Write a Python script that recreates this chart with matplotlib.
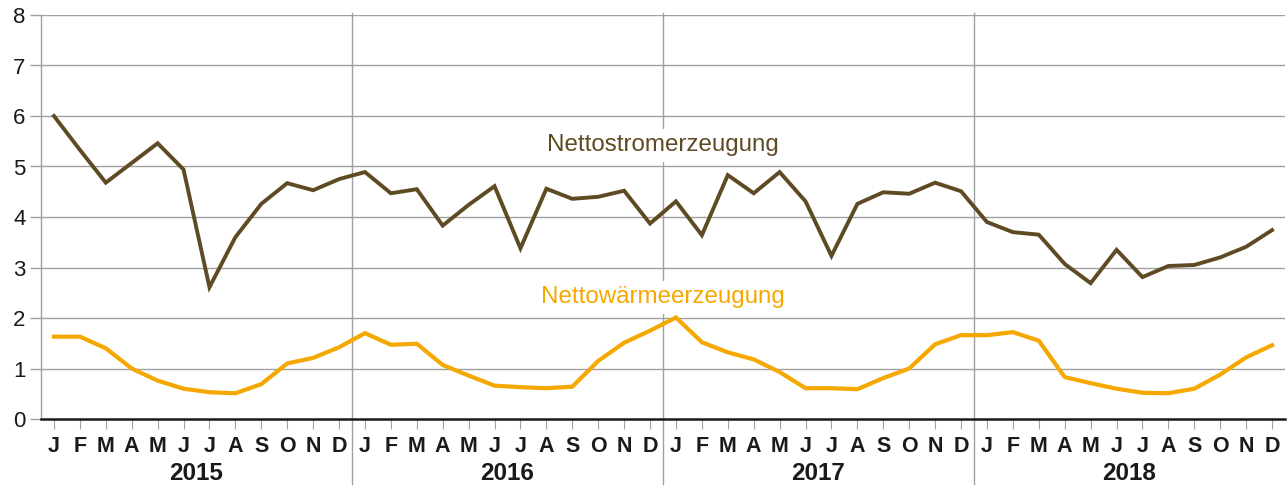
import numpy as np
import matplotlib
matplotlib.use("Agg")
import matplotlib.pyplot as plt
import matplotlib.transforms as mtransforms

plt.rcParams['font.family'] = ['Liberation Sans', 'DejaVu Sans']

years = ['2015', '2016', '2017', '2018']
months = ['J', 'F', 'M', 'A', 'M', 'J', 'J', 'A', 'S', 'O', 'N', 'D']

# Nettostromerzeugung, Jan 2015 - Dez 2018
strom = [6.00, 5.33, 4.68, 5.07, 5.46, 4.94, 2.61, 3.60, 4.26, 4.67, 4.53, 4.75,
         4.89, 4.47, 4.55, 3.83, 4.24, 4.61, 3.38, 4.56, 4.36, 4.40, 4.52, 3.87,
         4.31, 3.64, 4.83, 4.47, 4.89, 4.31, 3.23, 4.26, 4.49, 4.46, 4.68, 4.51,
         3.90, 3.70, 3.65, 3.07, 2.69, 3.35, 2.81, 3.03, 3.05, 3.20, 3.41, 3.74]
# Nettowaermeerzeugung
waerme = [1.63, 1.63, 1.40, 1.00, 0.76, 0.60, 0.53, 0.51, 0.69, 1.10, 1.21, 1.42,
          1.70, 1.47, 1.49, 1.07, 0.86, 0.66, 0.63, 0.61, 0.64, 1.15, 1.51, 1.75,
          2.01, 1.52, 1.32, 1.18, 0.93, 0.61, 0.61, 0.59, 0.81, 1.00, 1.48, 1.66,
          1.66, 1.72, 1.55, 0.83, 0.71, 0.60, 0.52, 0.51, 0.60, 0.88, 1.22, 1.46]

brown = '#5e4a23'
orange = '#f5a800'
grid_c = '#a0a0a0'

fig = plt.figure(figsize=(12.87, 4.86), dpi=100)
ax = fig.add_axes([41/1287, 1-419/486, 1244/1287, 404/486])

x = np.arange(len(strom))
ax.set_xlim(-0.5, len(strom) - 0.5)
ax.set_ylim(0, 8)

for v in range(1, 9):
    ax.axhline(v, color=grid_c, lw=1.0, zorder=1)

ax.plot(x, strom, color=brown, lw=2.8, zorder=4, solid_joinstyle='miter')
ax.plot(x, waerme, color=orange, lw=3.0, zorder=4, solid_joinstyle='miter')

# year separators extending below the axis
trans = mtransforms.blended_transform_factory(ax.transData, ax.transAxes)
for i in range(1, len(years)):
    xs = i * 12 - 0.5
    ax.plot([xs, xs], [1.005, -0.16], color=grid_c, lw=1.0, transform=trans,
            clip_on=False, zorder=2)

for i, yr in enumerate(years):
    ax.text(i * 12 + 5.5, -0.135, yr, transform=trans, ha='center', va='center',
            fontsize=17.5, fontweight='bold', color='#1a1a1a')

ax.text(23.5, 5.42, 'Nettostromerzeugung', ha='center', va='center',
        fontsize=17.4, color=brown, zorder=3,
        bbox=dict(facecolor='white', edgecolor='none', pad=4))
ax.text(23.5, 2.41, 'Nettowärmeerzeugung', ha='center', va='center',
        fontsize=17.4, color=orange, zorder=3,
        bbox=dict(facecolor='white', edgecolor='none', pad=4))

ax.set_xticks(x)
ax.set_xticklabels(months * len(years), fontsize=15.5, fontweight='bold',
                   color='#1a1a1a')
ax.set_yticks(range(0, 9))
ax.set_yticklabels([str(v) for v in range(0, 9)], fontsize=16, color='#1a1a1a')
ax.tick_params(axis='x', length=7, color=grid_c, pad=5)
ax.tick_params(axis='y', length=8, color=grid_c, width=1.0, pad=3)

for s in ['top', 'right']:
    ax.spines[s].set_visible(False)
ax.spines['left'].set_color(grid_c)
ax.spines['left'].set_linewidth(1.0)
ax.spines['bottom'].set_color('#1a1a1a')
ax.spines['bottom'].set_linewidth(1.8)
ax.spines['bottom'].set_zorder(5)

fig.savefig('out.png', dpi=100)
